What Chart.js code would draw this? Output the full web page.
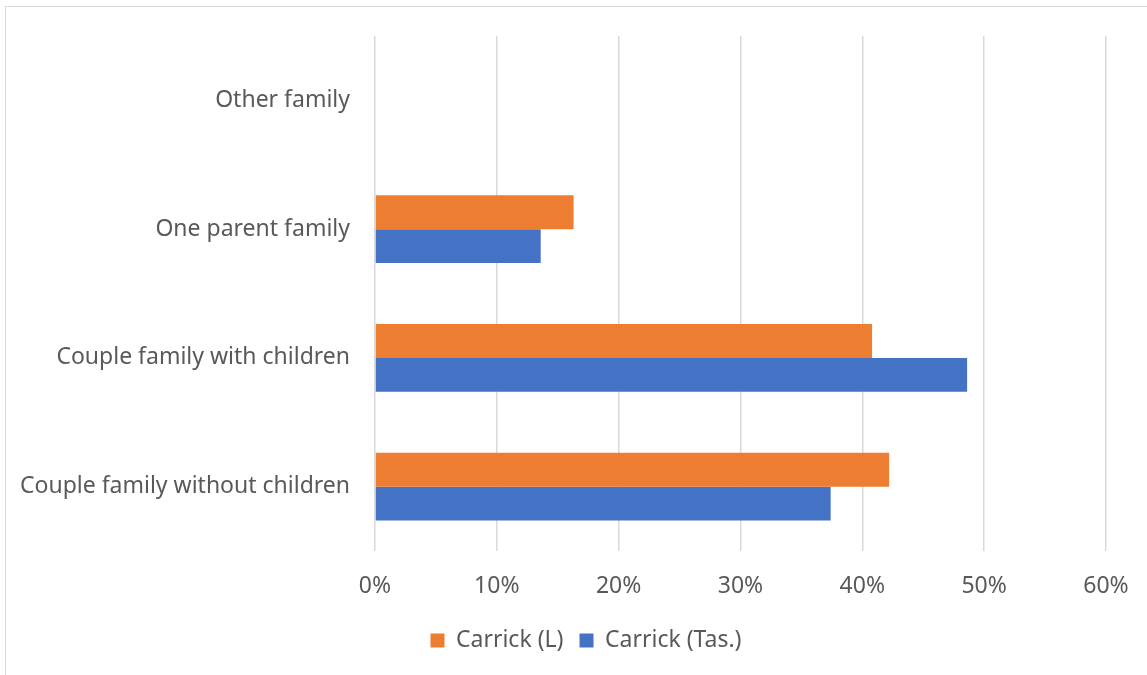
<!DOCTYPE html>
<html>
<head>
<meta charset="utf-8">
<script src="https://cdn.jsdelivr.net/npm/chart.js@4"></script>
<style>
  html, body { margin: 0; padding: 0; background: #fff; }
  #wrap { position: relative; width: 1147px; height: 675px; }
  #frame { position: absolute; left: 5px; top: 6px; width: 1160px; height: 700px; border: 1.5px solid #d9d9d9; box-sizing: border-box; }
  canvas { position: absolute; left: 0; top: 0; }
</style>
</head>
<body>
<div id="wrap">
  <div id="frame"></div>
  <canvas id="chart" width="1147" height="675"></canvas>
</div>
<script>
// values (percent of families)
const categories = ['Other family', 'One parent family', 'Couple family with children', 'Couple family without children'];
const carrickL = [null, 16.3, 40.8, 42.2];
const carrickTas = [null, 13.6, 48.6, 37.4];
const xTicks = [0, 10, 20, 30, 40, 50, 60];

const textColor = '#595959';
const fontFamily = '"Noto Sans", sans-serif';

// legend in the reference sits a bit right of the canvas centre
const shiftLegend = {
  id: 'shiftLegend',
  afterLayout(chart) {
    chart.legend.left += 33;
    chart.legend.right += 33;
  }
};

const ctx = document.getElementById('chart');
new Chart(ctx, {
  type: 'bar',
  data: {
    labels: categories,
    datasets: [
      { label: 'Carrick (L)', data: carrickL, backgroundColor: '#ED7D31', borderWidth: 0 },
      { label: 'Carrick (Tas.)', data: carrickTas, backgroundColor: '#4472C4', borderWidth: 0 }
    ]
  },
  options: {
    indexAxis: 'y',
    responsive: false,
    animation: false,
    barPercentage: 1,
    categoryPercentage: 0.527,
    layout: { padding: { top: 36, right: 41, left: 0, bottom: 13 } },
    scales: {
      x: {
        min: 0,
        max: 60,
        afterBuildTicks: (scale) => { scale.ticks = xTicks.map((v) => ({ value: v })); },
        afterFit: (scale) => {
          scale.height = 62;
          scale.paddingLeft = 0;
          scale.paddingRight = 0;
        },
        grid: { color: '#d9d9d9', lineWidth: 1.5, drawTicks: false },
        border: { display: false },
        ticks: {
          padding: 22,
          color: textColor,
          font: { family: fontFamily, size: 23 },
          callback: (v) => v + '%'
        }
      },
      y: {
        afterFit: (scale) => {
          scale.width = 375;
          scale.paddingTop = 0;
          scale.paddingBottom = 0;
        },
        grid: { display: false, drawTicks: false },
        border: { display: false },
        ticks: {
          padding: 25,
          color: textColor,
          font: { family: fontFamily, size: 23 }
        }
      }
    },
    plugins: {
      tooltip: { enabled: false },
      legend: {
        position: 'bottom',
        labels: {
          color: textColor,
          font: { family: fontFamily, size: 23 },
          boxWidth: 14,
          boxHeight: 14,
          padding: 16
        }
      }
    }
  },
  plugins: [shiftLegend]
});
</script>
</body>
</html>
